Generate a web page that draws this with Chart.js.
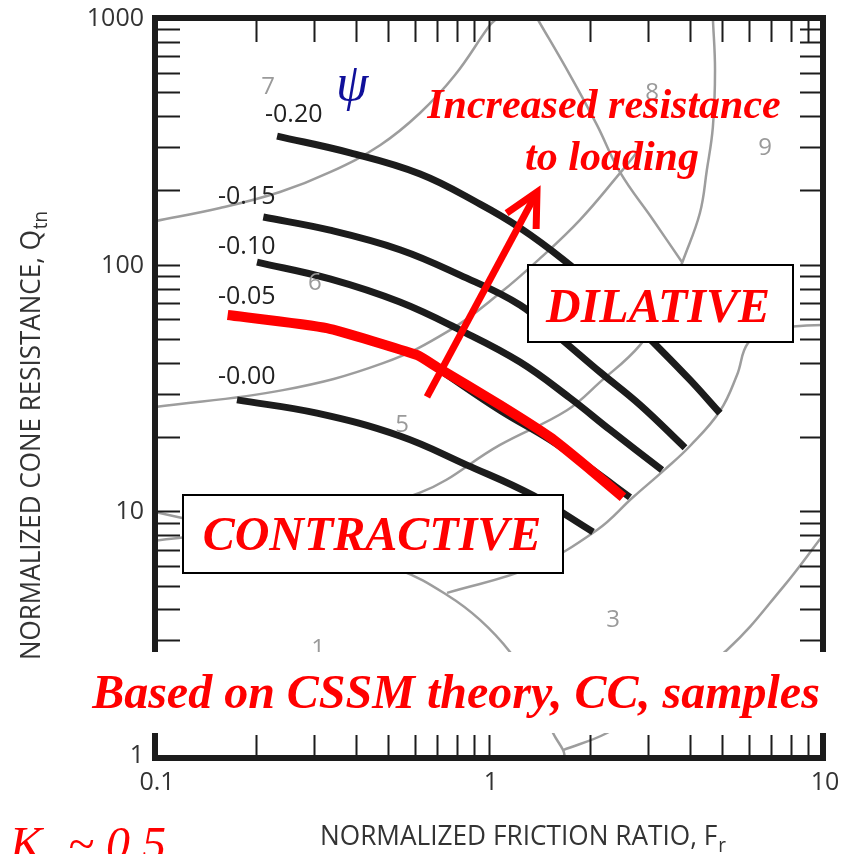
<!DOCTYPE html>
<html>
<head>
<meta charset="utf-8">
<script src="https://cdn.jsdelivr.net/npm/chart.js@4.4.1/dist/chart.umd.min.js"></script>
<style>
  html, body { margin: 0; background: #fff; }
  canvas { display: block; }
</style>
</head>
<body>
<canvas id="cssm" width="841" height="854"></canvas>
<script>
/* ============================================================
   State parameter contours (psi) on the normalized SBT chart
   Fr (%) on x, Qtn on y, both log
   ============================================================ */

// ── psi contours ─────────────────────────────────────────────
const PSI_NAMES = ['-0.20', '-0.15', '-0.10', '-0.05', '-0.00'];

const PSI_020_FR = [0.232, 0.384, 0.622, 0.940, 1.238, 1.666, 2.303, 3.097, 3.998, 4.916];
const PSI_020_Q  = [332, 284, 233, 176, 141, 105, 72.5, 48.6, 34.1, 25.0];

const PSI_015_FR = [0.211, 0.334, 0.541, 0.819, 1.238, 1.632, 2.149, 2.832, 3.862];
const PSI_015_Q  = [156, 138, 115, 90.7, 68.6, 50.4, 36.7, 27.0, 18.1];

const PSI_010_FR = [0.202, 0.334, 0.541, 0.819, 1.238, 1.748, 2.303, 3.296];
const PSI_010_Q  = [102.4, 87.5, 70.5, 54.3, 40.3, 28.8, 21.4, 14.7];

const PSI_005_FR = [0.168, 0.327, 0.609, 0.713, 1.079, 1.523, 2.006, 2.643];
const PSI_005_Q  = [62.5, 54.8, 43.0, 37.4, 25.7, 19.5, 15.0, 11.4];

const PSI_000_FR = [0.176, 0.3055, 0.541, 0.859, 1.354, 2.048];
const PSI_000_Q  = [28.3, 25.0, 20.2, 15.4, 11.6, 8.25];

// hand-drawn highlight over psi = -0.05 (CC samples)
const CC_FR = [0.165, 0.327, 0.609, 0.699, 1.079, 1.523, 1.938, 2.518];
const CC_Q  = [62.5, 55.3, 43.0, 38.4, 27.0, 20.0, 15.4, 11.4];

// where each psi name is written
const PSI_LABEL_FR = [0.2135, 0.1544, 0.1544, 0.1544, 0.1544];
const PSI_LABEL_Q  = [404, 188, 117.9, 73.9, 35.0];

// ── SBT zone boundaries (grey) ───────────────────────────────
const B76_FR = [0.1, 0.1565, 0.2367, 0.3342, 0.4718, 0.6215, 0.791, 1.007, 1.06];
const B76_Q  = [150, 169.6, 197, 237, 305, 412, 587, 936, 1000];

const B8L_FR = [1.392, 1.748, 2.106, 2.467, 3.097, 3.79];
const B8L_Q  = [1000, 587, 368, 237, 152, 102];

const B89_FR = [4.68, 4.75, 4.68, 4.49, 4.28, 3.79];
const B89_Q  = [1000, 615, 361, 242, 162, 102];

const B65_FR = [0.1, 0.2416, 0.4816, 0.7641, 1.079, 1.421, 1.873, 2.467, 2.80];
const B65_Q  = [26.5, 31.0, 39.9, 54.3, 76.7, 106, 152, 235, 290];

const B54_FR = [0.1, 0.2717, 0.6215, 1.079, 1.712, 2.149, 2.832, 3.365, 3.79];
const B54_Q  = [7.6, 9.0, 11.9, 18.6, 25.7, 33.4, 47.2, 68.6, 102];

const B1_FR = [0.1, 0.1925, 0.3342, 0.5414, 0.7487, 0.9399, 1.156, 1.373, 1.555, 1.666, 1.689];
const B1_Q  = [9.94, 8.17, 6.97, 5.78, 4.58, 3.63, 2.69, 1.887, 1.263, 1.077, 1.0];

const B43_FR = [0.7487, 1.354, 2.106, 2.698, 3.365, 3.998, 4.916, 5.528, 5.964, 6.94, 8.53, 10];
const B43_Q  = [4.67, 5.95, 8.40, 11.4, 14.8, 18.4, 25.5, 35.7, 48.1, 54.3, 56.4, 56.9];

const B32_FR = [1.666, 2.256, 3.251, 5.160, 7.591, 10];
const B32_Q  = [1.077, 1.263, 1.718, 2.74, 4.93, 8.0];

const ZONE_NAMES = ['7', '6', '5', '8', '9', '3', '1'];
const ZONE_FR    = [0.218, 0.301, 0.549, 3.076, 6.71, 2.351, 0.308];
const ZONE_Q     = [525, 84.2, 22.4, 496, 297, 3.63, 2.77];

// arrow "increased resistance" (tail, tip)
const ARROW_FR = [0.652, 1.392];
const ARROW_Q  = [29.1, 197];

// ── axes ─────────────────────────────────────────────────────
const X_LABELS = [0.1, 1, 10];
const Y_LABELS = [1, 10, 100, 1000];
const X_TICKS = [0.2, 0.3, 0.4, 0.5, 0.6, 0.7, 0.8, 0.9, 1, 2, 3, 4, 5, 6, 7, 8, 9];
const Y_TICKS = [2, 3, 4, 5, 6, 7, 8, 9, 10, 20, 30, 40, 50, 60, 70, 80, 90,
                 100, 200, 300, 400, 500, 600, 700, 800, 900];

const RED  = '#ff0000';
const INK  = '#1c1c1c';
const GREY = '#9d9d9d';
const SERIF = '"Liberation Serif", "Times New Roman", serif';
const SANS  = '"Open Sans", "DejaVu Sans", sans-serif';

function pts(fr, q) { return fr.map((f, i) => ({ x: f, y: q[i] })); }

function curve(fr, q, color, width, order, tension = 0.4) {
  return {
    data: pts(fr, q), showLine: true, fill: false,
    borderColor: color, borderWidth: width, borderCapStyle: 'butt', borderJoinStyle: 'round',
    pointRadius: 0, pointHoverRadius: 0, tension, order, clip: 0,
  };
}

// ── overlay: frame, ticks, notes ─────────────────────────────
function drawSubText(ctx, main, sub, x0, y0, size, width, rotate) {
  ctx.save();
  ctx.translate(x0, y0);
  if (rotate) ctx.rotate(-Math.PI / 2);
  ctx.font = `${size}px ${SANS}`;
  const w1 = ctx.measureText(main).width;
  ctx.font = `${size * 0.72}px ${SANS}`;
  const w2 = ctx.measureText(sub).width;
  ctx.scale(width / (w1 + w2), 1);
  ctx.fillStyle = '#333';
  ctx.textAlign = 'left';
  ctx.textBaseline = 'alphabetic';
  ctx.font = `${size}px ${SANS}`;
  ctx.fillText(main, 0, 0);
  ctx.font = `${size * 0.72}px ${SANS}`;
  ctx.fillText(sub, w1 + 1, size * 0.25);
  ctx.restore();
}

function box(ctx, l, t, r, b) {
  ctx.fillStyle = '#fff';
  ctx.fillRect(l, t, r - l, b - t);
  ctx.strokeStyle = '#000';
  ctx.lineWidth = 2;
  ctx.strokeRect(l, t, r - l, b - t);
}

function redText(ctx, txt, cx, base, size, bold = true) {
  ctx.font = `${bold ? 'bold ' : ''}italic ${size}px ${SERIF}`;
  ctx.fillStyle = RED;
  ctx.textAlign = 'center';
  ctx.textBaseline = 'alphabetic';
  ctx.fillText(txt, cx, base);
}

const overlay = {
  id: 'overlay',
  afterDatasetsDraw(chart) {
    const { ctx, chartArea: a, scales: { x, y } } = chart;
    ctx.save();

    // frame
    ctx.strokeStyle = INK;
    ctx.lineWidth = 6;
    ctx.lineCap = 'square';
    ctx.strokeRect(a.left, a.top, a.right - a.left, a.bottom - a.top);

    // inward ticks on all four sides
    ctx.lineWidth = 2;
    ctx.lineCap = 'butt';
    ctx.beginPath();
    X_TICKS.forEach(v => {
      const px = Math.round(x.getPixelForValue(v)) + 0.5;
      ctx.moveTo(px, a.top); ctx.lineTo(px, a.top + 24);
      ctx.moveTo(px, a.bottom); ctx.lineTo(px, a.bottom - 23);
    });
    Y_TICKS.forEach(v => {
      const py = Math.round(y.getPixelForValue(v)) + 0.5;
      ctx.moveTo(a.left, py); ctx.lineTo(a.left + 25, py);
      ctx.moveTo(a.right, py); ctx.lineTo(a.right - 23, py);
    });
    ctx.stroke();

    // zone numbers
    ctx.font = `24px ${SANS}`;
    ctx.fillStyle = '#9a9a9a';
    ctx.textAlign = 'center';
    ctx.textBaseline = 'middle';
    ZONE_NAMES.forEach((t, i) => ctx.fillText(t, x.getPixelForValue(ZONE_FR[i]), y.getPixelForValue(ZONE_Q[i])));

    // psi names
    ctx.font = `25px ${SANS}`;
    ctx.fillStyle = '#222';
    ctx.textAlign = 'left';
    PSI_NAMES.forEach((t, i) => ctx.fillText(t, x.getPixelForValue(PSI_LABEL_FR[i]), y.getPixelForValue(PSI_LABEL_Q[i])));

    ctx.font = `italic 52px ${SERIF}`;
    ctx.fillStyle = '#10109a';
    ctx.textAlign = 'center';
    ctx.textBaseline = 'alphabetic';
    ctx.fillText('\u03C8', x.getPixelForValue(0.389), y.getPixelForValue(510) + 10);

    // arrow
    const x0 = x.getPixelForValue(ARROW_FR[0]), y0 = y.getPixelForValue(ARROW_Q[0]);
    const x1 = x.getPixelForValue(ARROW_FR[1]), y1 = y.getPixelForValue(ARROW_Q[1]);
    const ang = Math.atan2(y1 - y0, x1 - x0);
    const back = ang + Math.PI, spread = 0.47, arm = 37;
    ctx.strokeStyle = RED;
    ctx.lineWidth = 7;
    ctx.lineCap = 'butt';
    ctx.beginPath();
    ctx.moveTo(x0, y0);
    ctx.lineTo(x1 - 4 * Math.cos(ang), y1 - 4 * Math.sin(ang));
    ctx.stroke();
    ctx.lineJoin = 'miter';
    ctx.beginPath();
    ctx.moveTo(x1 + arm * Math.cos(back - spread), y1 + arm * Math.sin(back - spread));
    ctx.lineTo(x1, y1);
    ctx.lineTo(x1 + arm * Math.cos(back + spread), y1 + arm * Math.sin(back + spread));
    ctx.stroke();

    // region boxes
    box(ctx, 528, 265, 793, 342);
    redText(ctx, 'DILATIVE', 658, 322, 48);
    box(ctx, 183, 495, 563, 573);
    redText(ctx, 'CONTRACTIVE', 372, 550, 48);

    redText(ctx, 'Increased resistance', 604, 118, 42);
    redText(ctx, 'to loading', 612, 170, 42);

    // white band with the source note
    ctx.fillStyle = '#fff';
    ctx.fillRect(0, 652, chart.width, 81);
    redText(ctx, 'Based on CSSM theory, CC, samples', 456, 708, 48);

    // tick labels
    ctx.font = `25px ${SANS}`;
    ctx.fillStyle = '#333';
    ctx.textBaseline = 'middle';
    ctx.textAlign = 'right';
    Y_LABELS.forEach(v => ctx.fillText(String(v), a.left - 11, y.getPixelForValue(v) + (v === 1 ? -2 : 1)));
    ctx.textAlign = 'center';
    X_LABELS.forEach(v => ctx.fillText(String(v), x.getPixelForValue(v) + 2, a.bottom + 25));

    // axis titles
    drawSubText(ctx, 'NORMALIZED FRICTION RATIO, F', 'r', 320, 845, 28, 405, false);
    drawSubText(ctx, 'NORMALIZED CONE RESISTANCE, Q', 'tn', 40, 660, 28, 448, true);

    // K0 note, cut by the page edge
    ctx.font = `italic 48px ${SERIF}`;
    ctx.fillStyle = RED;
    ctx.textAlign = 'left';
    ctx.textBaseline = 'alphabetic';
    ctx.fillText('K', 10, 860);
    ctx.fillText('~ 0.5', 68, 860);
    ctx.font = `italic 30px ${SERIF}`;
    ctx.fillText('o', 42, 872);

    ctx.restore();
  },
};

new Chart(document.getElementById('cssm'), {
  type: 'scatter',
  data: {
    datasets: [
      curve(CC_FR, CC_Q, RED, 10, 0, 0.15),
      curve(PSI_020_FR, PSI_020_Q, INK, 7, 1),
      curve(PSI_015_FR, PSI_015_Q, INK, 7, 1),
      curve(PSI_010_FR, PSI_010_Q, INK, 7, 1),
      curve(PSI_005_FR, PSI_005_Q, INK, 7, 1),
      curve(PSI_000_FR, PSI_000_Q, INK, 7, 1),
      curve(B76_FR, B76_Q, GREY, 2.5, 2),
      curve(B8L_FR, B8L_Q, GREY, 2.5, 2),
      curve(B89_FR, B89_Q, GREY, 2.5, 2),
      curve(B65_FR, B65_Q, GREY, 2.5, 2),
      curve(B54_FR, B54_Q, GREY, 2.5, 2),
      curve(B1_FR, B1_Q, GREY, 2.5, 2),
      curve(B43_FR, B43_Q, GREY, 2.5, 2),
      curve(B32_FR, B32_Q, GREY, 2.5, 2),
    ],
  },
  options: {
    responsive: false, animation: false, devicePixelRatio: 1,
    layout: { padding: { left: 155, right: 18, top: 18, bottom: 96 } },
    plugins: { legend: { display: false }, tooltip: { enabled: false } },
    scales: {
      x: { type: 'logarithmic', min: 0.1, max: 10, display: false },
      y: { type: 'logarithmic', min: 1, max: 1000, display: false },
    },
  },
  plugins: [overlay],
});
</script>
</body>
</html>
